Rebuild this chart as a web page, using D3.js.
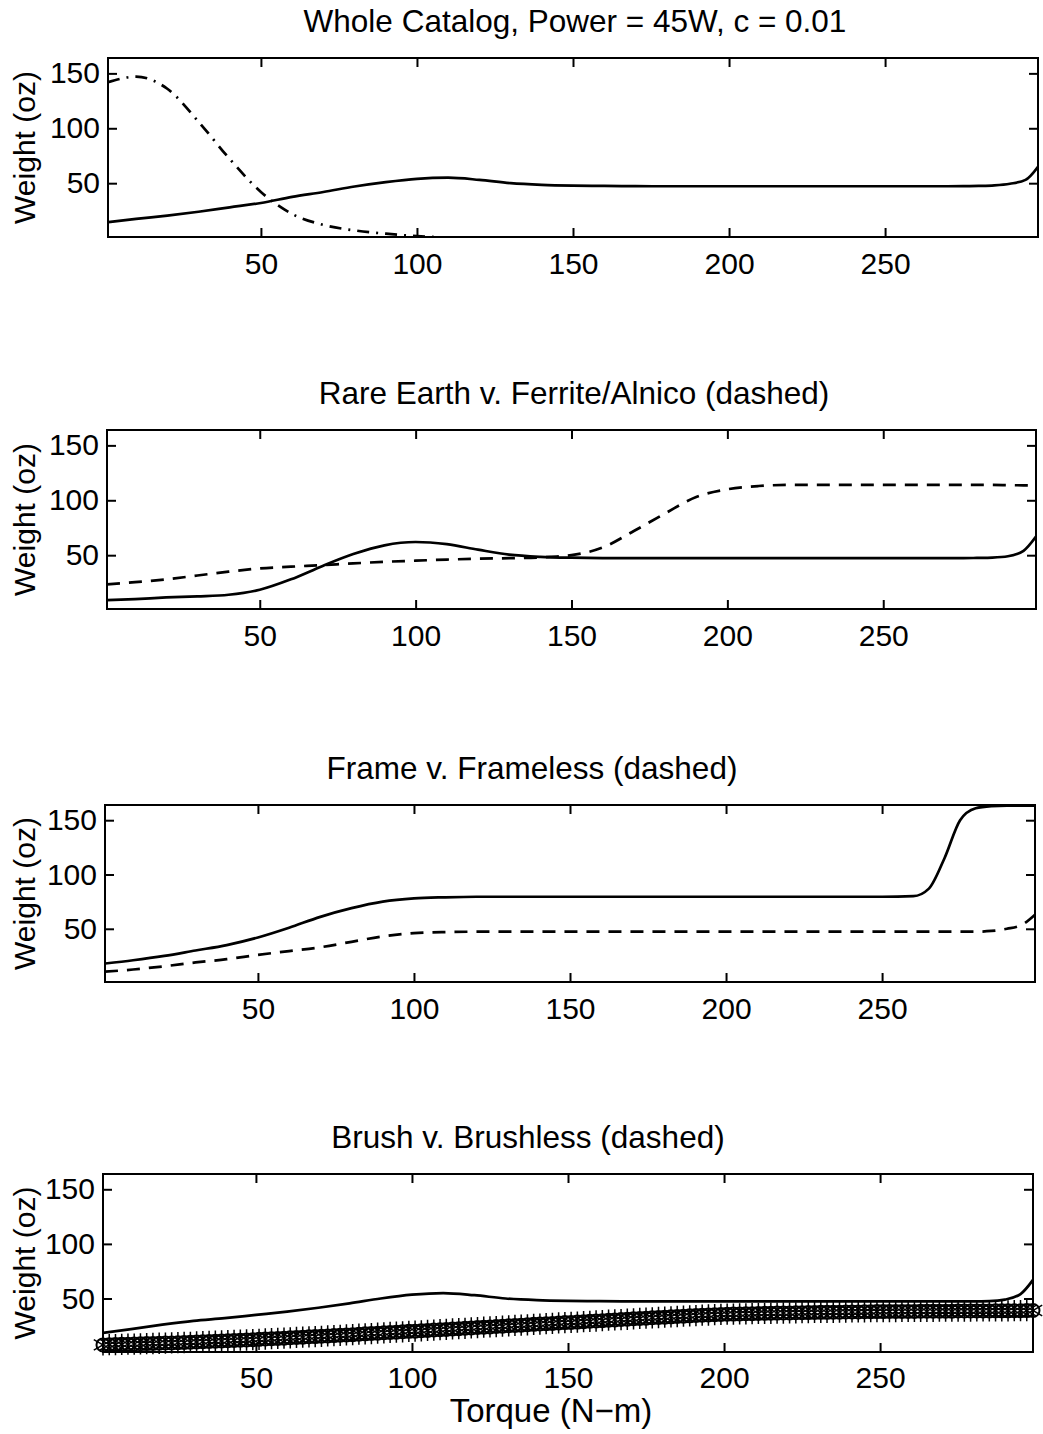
<!DOCTYPE html>
<html>
<head>
<meta charset="utf-8">
<script src="https://cdn.jsdelivr.net/npm/d3@7"></script>
<style>
  body { margin: 0; background: #fff; }
  text { font-family: "Liberation Sans", Arial, Helvetica, sans-serif; fill: #000; }
</style>
</head>
<body>
<svg id="chart" width="1043" height="1434"></svg>
<script>
const torqueKnots = [1, 10, 20, 30, 40, 50, 60, 70, 80, 90, 100, 110, 120, 130, 140, 150, 160, 170, 180, 190,
  200, 210, 220, 230, 240, 250, 260, 265, 270, 275, 280, 285, 290, 295, 299];

// panel 1: whole catalog
const catalogSolid = [14.5, 17.5, 20.5, 24, 28, 32, 37.5, 42, 47, 51, 54, 55, 53, 50, 48.5, 47.8, 47.5, 47.3, 47.2, 47.2,
  47.2, 47.2, 47.2, 47.2, 47.2, 47.2, 47.2, 47.2, 47.2, 47.3, 47.5, 48, 49.5, 53, 65];
const catalogDashDot = [142, 147, 136, 106, 72, 42, 22, 12, 7, 4, 1.8, 0.5, 0, 0, 0, 0, 0, 0, 0, 0,
  0, 0, 0, 0, 0, 0, 0, 0, 0, 0, 0, 0, 0, 0, 0];

// panel 2: rare earth v. ferrite/alnico
const rareEarth = [9, 10, 11.5, 12.5, 14, 18.5, 28, 40, 51, 59, 62, 60, 55, 50.5, 48.5, 47.7, 47.4, 47.3, 47.3, 47.3,
  47.3, 47.3, 47.3, 47.3, 47.3, 47.3, 47.3, 47.3, 47.3, 47.3, 47.5, 47.8, 49, 54, 67];
const ferrite = [23.5, 25.5, 28, 31.5, 35, 38, 39.5, 41, 42.5, 44, 45, 46, 46.8, 47.3, 48, 50, 57, 72, 88, 103,
  110, 113, 114, 114, 114, 114, 114, 114, 114, 114, 114, 114, 113.8, 113.6, 113.5];

// panel 3: frame v. frameless
const frame = [18, 21, 25, 30, 35, 42, 51, 61, 69, 75, 78, 79, 79.5, 79.5, 79.5, 79.5, 79.5, 79.5, 79.5, 79.5,
  79.5, 79.5, 79.5, 79.5, 79.5, 79.5, 80, 87, 115, 150, 161, 163, 163.5, 163.5, 163.5];
const frameless = [10.5, 12.5, 15.5, 19, 22, 26, 29.5, 33, 38, 43, 46, 47, 47.3, 47.3, 47.3, 47.3, 47.3, 47.3, 47.3, 47.3,
  47.3, 47.3, 47.3, 47.3, 47.3, 47.3, 47.3, 47.3, 47.3, 47.3, 47.3, 48, 50, 54, 63];

// panel 4: brush v. brushless
const brush = [18.5, 22, 26, 29.5, 32, 35, 38, 41.5, 45.5, 50, 53.5, 55, 53, 50, 48.5, 47.8, 47.5, 47.3, 47.3, 47.3,
  47.3, 47.3, 47.3, 47.3, 47.3, 47.3, 47.3, 47.3, 47.3, 47.3, 47.3, 47.5, 49, 54, 67];
const brushlessTorque = d3.range(1, 300, 2);
const brushless = [
  7.5, 7.7, 7.8, 8.0, 8.2, 8.3, 8.5, 8.7, 8.8, 9.0, 9.2, 9.3, 9.5,
  9.7, 9.9, 10.2, 10.4, 10.6, 10.9, 11.1, 11.3, 11.6, 11.8, 12.0, 12.3,
  12.6, 12.9, 13.2, 13.4, 13.7, 14.0, 14.3, 14.6, 14.9, 15.1, 15.4, 15.7, 16.0,
  16.3, 16.6, 16.9, 17.3, 17.6, 17.9, 18.2, 18.6, 18.9, 19.2, 19.5, 19.9,
  20.1, 20.4, 20.8, 21.1, 21.4, 21.7, 22.1, 22.4, 22.7, 23.0, 23.4, 23.7, 24.0,
  24.3, 24.6, 25.0, 25.3, 25.6, 25.9, 26.3, 26.6, 26.9, 27.2, 27.6, 27.9,
  28.1, 28.4, 28.8, 29.1, 29.4, 29.7, 30.1, 30.4, 30.7, 31.0, 31.4, 31.7, 32.0,
  32.3, 32.6, 32.9, 33.2, 33.5, 33.8, 34.1, 34.4, 34.7, 34.9, 35.2, 35.4,
  35.6, 35.7, 35.9, 36.0, 36.1, 36.3, 36.4, 36.5, 36.6, 36.7, 36.8, 36.9, 37.0,
  37.1, 37.2, 37.3, 37.3, 37.4, 37.5, 37.6, 37.7, 37.7, 37.8, 37.9, 38.0,
  38.0, 38.1, 38.1, 38.2, 38.2, 38.2, 38.3, 38.3, 38.3, 38.4, 38.4, 38.4, 38.5,
  38.5, 38.5, 38.6, 38.6, 38.6, 38.7, 38.7, 38.7, 38.8, 38.8, 38.9, 39.0
];

const titles = [
  "Whole Catalog, Power = 45W, c = 0.01",
  "Rare Earth v. Ferrite/Alnico (dashed)",
  "Frame v. Frameless (dashed)",
  "Brush v. Brushless (dashed)"
];
const xTicks = [50, 100, 150, 200, 250];
const yTicks = [50, 100, 150];
const xDomain = [1, 299];
const yDomain = [1, 164];

// box of each subplot (the scan is slightly skewed); titles sit a bit off-centre in the scan
const boxes = [
  { left: 108, right: 1038, top: 58, bottom: 237, titleX: 575 },
  { left: 107, right: 1036, top: 430, bottom: 609, titleX: 574 },
  { left: 105, right: 1035, top: 805, bottom: 982, titleX: 532 },
  { left: 103, right: 1033, top: 1174, bottom: 1352, titleX: 528 }
];

const panelLines = [
  [{ values: catalogSolid, dash: null }, { values: catalogDashDot, dash: "12,7,2,7" }],
  [{ values: rareEarth, dash: null }, { values: ferrite, dash: "13,9" }],
  [{ values: frame, dash: null }, { values: frameless, dash: "13,9" }],
  [{ values: brush, dash: null }]
];

const svg = d3.select("#chart");
const tickFont = 30;
const titleFont = 31.5;

boxes.forEach((b, i) => {
  const x = d3.scaleLinear().domain(xDomain).range([b.left, b.right]);
  const y = d3.scaleLinear().domain(yDomain).range([b.bottom, b.top]);
  const g = svg.append("g");

  g.append("clipPath")
    .attr("id", "clip" + i)
    .append("rect")
    .attr("x", b.left)
    .attr("y", b.top)
    .attr("width", b.right - b.left)
    .attr("height", b.bottom - b.top);

  // curves
  const line = d3.line()
    .x((d, k) => x(torqueKnots[k]))
    .y(d => y(d))
    .curve(d3.curveMonotoneX);

  panelLines[i].forEach(s => {
    g.append("path")
      .attr("clip-path", `url(#clip${i})`)
      .attr("d", line(s.values))
      .attr("fill", "none")
      .attr("stroke", "#000")
      .attr("stroke-width", 2.7)
      .attr("stroke-dasharray", s.dash);
  });

  // brushless markers
  if (i === 3) {
    const star = d3.symbol(d3.symbolAsterisk, 320);
    const marks = g.append("g");
    brushless.forEach((v, k) => {
      marks.append("path")
        .attr("transform", `translate(${x(brushlessTorque[k])},${y(v)})`)
        .attr("d", star())
        .attr("fill", "none")
        .attr("stroke", "#000")
        .attr("stroke-width", 1.5);
      marks.append("circle")
        .attr("cx", x(brushlessTorque[k]))
        .attr("cy", y(v))
        .attr("r", 6.5)
        .attr("fill", "none")
        .attr("stroke", "#000")
        .attr("stroke-width", 2);
    });
  }

  // axes with inward ticks on all four sides
  const styleAxis = sel => {
    sel.select(".domain").remove();
    sel.selectAll(".tick line").attr("stroke", "#000").attr("stroke-width", 2);
    sel.selectAll(".tick text")
      .attr("fill", "#000")
      .style("font-size", tickFont + "px")
      .style("font-family", '"Liberation Sans", Arial, sans-serif');
  };

  g.append("g")
    .attr("transform", `translate(0,${b.bottom})`)
    .call(d3.axisBottom(x).tickValues(xTicks).tickSize(-9).tickPadding(i === 3 ? 15 : 16))
    .call(styleAxis);
  g.append("g")
    .attr("transform", `translate(0,${b.top})`)
    .call(d3.axisTop(x).tickValues(xTicks).tickSize(-9).tickFormat(""))
    .call(styleAxis);
  g.append("g")
    .attr("transform", `translate(${b.left},0)`)
    .call(d3.axisLeft(y).tickValues(yTicks).tickSize(-9).tickPadding(8))
    .call(styleAxis);
  g.append("g")
    .attr("transform", `translate(${b.right},0)`)
    .call(d3.axisRight(y).tickValues(yTicks).tickSize(-9).tickFormat(""))
    .call(styleAxis);

  g.append("rect")
    .attr("x", b.left)
    .attr("y", b.top)
    .attr("width", b.right - b.left)
    .attr("height", b.bottom - b.top)
    .attr("fill", "none")
    .attr("stroke", "#000")
    .attr("stroke-width", 2);

  // title
  g.append("text")
    .attr("x", b.titleX)
    .attr("y", b.top - 26)
    .attr("text-anchor", "middle")
    .style("font-size", titleFont + "px")
    .text(titles[i]);

  // y label
  g.append("text")
    .attr("transform", `translate(35,${(b.top + b.bottom) / 2}) rotate(-90)`)
    .attr("text-anchor", "middle")
    .style("font-size", tickFont + "px")
    .text("Weight (oz)");
});

svg.append("text")
  .attr("x", 551)
  .attr("y", 1422)
  .attr("text-anchor", "middle")
  .style("font-size", "33px")
  .text("Torque (N\u2212m)");
</script>
</body>
</html>
